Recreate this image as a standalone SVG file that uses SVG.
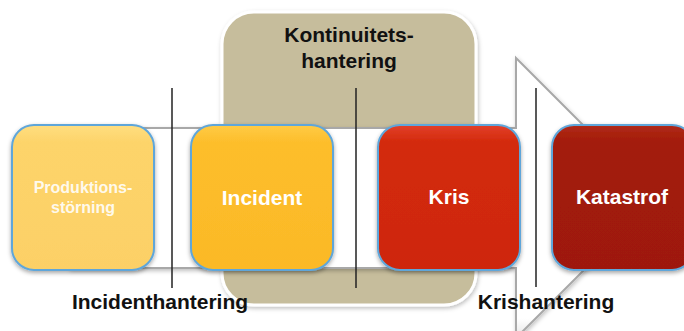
<svg xmlns="http://www.w3.org/2000/svg" width="684" height="331" viewBox="0 0 684 331">
  <defs>
    <filter id="shadow" x="-20%" y="-20%" width="140%" height="140%">
      <feDropShadow dx="0" dy="2" stdDeviation="2" flood-color="#000" flood-opacity="0.35"/>
    </filter>
    <filter id="soft" x="-20%" y="-20%" width="140%" height="140%">
      <feDropShadow dx="1" dy="2" stdDeviation="2" flood-color="#000" flood-opacity="0.25"/>
    </filter>
    <linearGradient id="g1" x1="0" y1="0" x2="0" y2="1">
      <stop offset="0" stop-color="#FFDE80"/>
      <stop offset="0.12" stop-color="#FDD46A"/>
      <stop offset="1" stop-color="#FCD066"/>
    </linearGradient>
    <linearGradient id="g2" x1="0" y1="0" x2="0" y2="1">
      <stop offset="0" stop-color="#FFCB45"/>
      <stop offset="0.12" stop-color="#FDBE2B"/>
      <stop offset="1" stop-color="#FBB927"/>
    </linearGradient>
    <linearGradient id="g3" x1="0" y1="0" x2="0" y2="1">
      <stop offset="0" stop-color="#E2402A"/>
      <stop offset="0.12" stop-color="#D32A0B"/>
      <stop offset="1" stop-color="#CE270A"/>
    </linearGradient>
    <linearGradient id="g4" x1="0" y1="0" x2="0" y2="1">
      <stop offset="0" stop-color="#B02A18"/>
      <stop offset="0.12" stop-color="#A31B08"/>
      <stop offset="1" stop-color="#9E1907"/>
    </linearGradient>
    <linearGradient id="shaft" x1="0" y1="0" x2="0" y2="1">
      <stop offset="0" stop-color="#FFFFFF"/>
      <stop offset="0.93" stop-color="#FFFFFF"/>
      <stop offset="1" stop-color="#E4E4E4"/>
    </linearGradient>
  </defs>
  <style>
    .box { stroke: #5FA6DA; stroke-width: 2; filter: url(#shadow); }
    .lbl { font-family: "Liberation Sans", Arial, sans-serif; font-weight: bold; fill: #FFFFFF; text-anchor: middle; }
    .cap { font-family: "Liberation Sans", Arial, sans-serif; font-weight: bold; fill: #111111; text-anchor: middle; font-size: 21px; }
    .vline { stroke: #222222; stroke-width: 1.5; }
  </style>

  <g id="kontinuitet">
    <rect x="222" y="12" width="254" height="293" rx="32" ry="32" fill="#C6BD9C" stroke="#FFFFFF" stroke-width="3" filter="url(#soft)"/>
    <text class="cap" x="349" y="42">Kontinuitets-</text>
    <text class="cap" x="349" y="68">hantering</text>
  </g>

  <g id="connectors">
    <path d="M70 128 L516 128 L516 58 L656 198 L516 338 L516 268 L70 268 Z" fill="url(#shaft)" stroke="#A8A8A8" stroke-width="2" filter="url(#soft)"/>
  </g>

  <g id="produktionsstorning">
    <rect class="box" x="12" y="125" width="142" height="145" rx="22" ry="22" fill="url(#g1)"/>
    <text class="lbl" x="83" y="193" font-size="16" fill-opacity="0.9">Produktions-</text>
    <text class="lbl" x="83" y="213" font-size="16" fill-opacity="0.9">störning</text>
  </g>

  <g id="incident">
    <rect class="box" x="191" y="125" width="142" height="145" rx="22" ry="22" fill="url(#g2)"/>
    <text class="lbl" x="262" y="205" font-size="21">Incident</text>
  </g>

  <g id="kris">
    <rect class="box" x="378" y="125" width="142" height="145" rx="22" ry="22" fill="url(#g3)"/>
    <text class="lbl" x="449" y="204" font-size="21">Kris</text>
  </g>

  <g id="katastrof">
    <rect class="box" x="552" y="125" width="142" height="145" rx="22" ry="22" fill="url(#g4)"/>
    <text class="lbl" x="622" y="204" font-size="21">Katastrof</text>
  </g>

  <g id="dividers">
    <line class="vline" x1="172" y1="88" x2="172" y2="288"/>
    <line class="vline" x1="356" y1="88" x2="356" y2="288"/>
    <line class="vline" x1="536" y1="88" x2="536" y2="287"/>
  </g>

  <g id="labels">
    <text class="cap" x="160" y="309">Incidenthantering</text>
    <text class="cap" x="546" y="309">Krishantering</text>
  </g>
</svg>
